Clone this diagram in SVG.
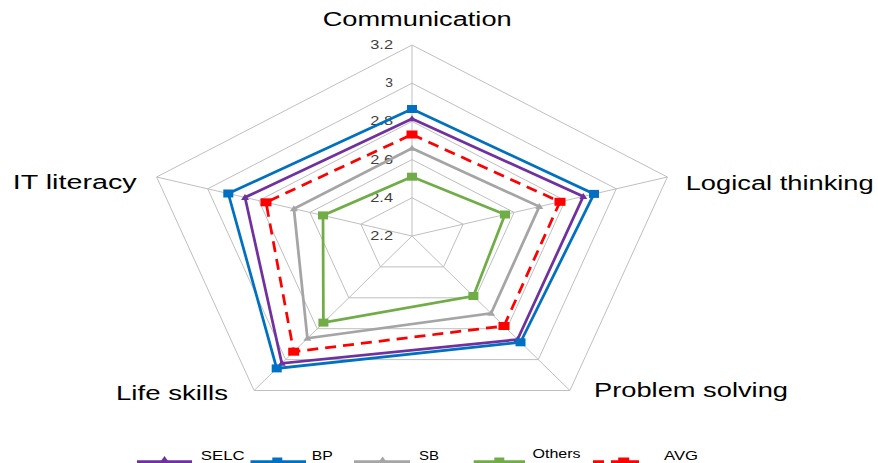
<svg xmlns="http://www.w3.org/2000/svg" width="878" height="463" viewBox="0 0 878 463">
<style>
.grid{fill:none;stroke:#BFBFBF;stroke-width:1}
.spoke{stroke:#BFBFBF;stroke-width:1}
.ser{fill:none;stroke-width:2.75;stroke-linejoin:miter}
.axis{font-family:"Liberation Sans",Arial,sans-serif;font-size:20px;fill:#000}
.tick{font-family:"Liberation Sans",Arial,sans-serif;font-size:12px;fill:#404040;text-anchor:end}
.leg{font-family:"Liberation Sans",Arial,sans-serif;font-size:12px;fill:#000}
</style>
<defs>
<marker id="mSELC" markerUnits="userSpaceOnUse" markerWidth="12" markerHeight="10" refX="6" refY="5.5" orient="0" overflow="visible"><path d="M6,2 L10,8 L2,8 Z" fill="#7030A0"/></marker>
<marker id="mBP" markerUnits="userSpaceOnUse" markerWidth="12" markerHeight="10" refX="6" refY="5" orient="0" overflow="visible"><rect x="1" y="1" width="10" height="8" fill="#0070C0"/></marker>
<marker id="mSB" markerUnits="userSpaceOnUse" markerWidth="12" markerHeight="10" refX="6" refY="5.5" orient="0" overflow="visible"><path d="M6,2 L10,8 L2,8 Z" fill="#A5A5A5"/></marker>
<marker id="mOth" markerUnits="userSpaceOnUse" markerWidth="12" markerHeight="10" refX="6" refY="5" orient="0" overflow="visible"><rect x="1" y="1" width="10" height="8" fill="#70AD47"/></marker>
<marker id="mAVG" markerUnits="userSpaceOnUse" markerWidth="12" markerHeight="10" refX="6" refY="5" orient="0" overflow="visible"><rect x="0.5" y="1" width="11" height="8" fill="#FF0000"/></marker>
</defs>
<rect width="878" height="463" fill="#FFFFFF"/>
<g id="grid">
<polygon class="grid" points="412,197.8 463.1,224.2 443.6,266.9 380.4,266.9 360.9,224.2"/>
<polygon class="grid" points="412,159.6 514.1,212.4 475.2,297.8 348.8,297.8 309.9,212.4"/>
<polygon class="grid" points="412,121.4 565.2,200.6 506.8,328.7 317.2,328.7 258.8,200.6"/>
<polygon class="grid" points="412,83.2 616.3,188.8 538.3,359.6 285.7,359.6 207.7,188.8"/>
<polygon class="grid" points="412,45 667.4,177 569.9,390.5 254.1,390.5 156.6,177"/>
<line class="spoke" x1="412" y1="236" x2="412" y2="45"/>
<line class="spoke" x1="412" y1="236" x2="667.4" y2="177"/>
<line class="spoke" x1="412" y1="236" x2="569.9" y2="390.5"/>
<line class="spoke" x1="412" y1="236" x2="254.1" y2="390.5"/>
<line class="spoke" x1="412" y1="236" x2="156.6" y2="177"/>
</g>
<g id="ticks">
<text class="tick" x="393" y="49" textLength="22.7" lengthAdjust="spacingAndGlyphs">3.2</text>
<text class="tick" x="393" y="87.2" textLength="7.7" lengthAdjust="spacingAndGlyphs">3</text>
<text class="tick" x="393" y="125.4" textLength="22.7" lengthAdjust="spacingAndGlyphs">2.8</text>
<text class="tick" x="393" y="163.6" textLength="22.7" lengthAdjust="spacingAndGlyphs">2.6</text>
<text class="tick" x="393" y="201.8" textLength="22.7" lengthAdjust="spacingAndGlyphs">2.4</text>
<text class="tick" x="393" y="240" textLength="22.7" lengthAdjust="spacingAndGlyphs">2.2</text>
</g>
<g id="series">
<polygon id="s-SELC" class="ser" stroke="#7030A0" marker-start="url(#mSELC)" marker-mid="url(#mSELC)" points="412,118.7 583.3,196.4 517.5,339.5 281.8,363.3 245,197.4"/>
<polygon id="s-BP" class="ser" stroke="#0070C0" marker-start="url(#mBP)" marker-mid="url(#mBP)" points="412,109 594,193.9 520.5,342.3 276.7,368.4 228.3,193.5"/>
<polygon id="s-SB" class="ser" stroke="#A5A5A5" marker-start="url(#mSB)" marker-mid="url(#mSB)" points="412,148.3 539.3,206.6 491.1,313.3 307.4,338.3 293.9,208.7"/>
<polygon id="s-Others" class="ser" stroke="#70AD47" stroke-width="2.5" marker-start="url(#mOth)" marker-mid="url(#mOth)" points="412,176.7 505,214.5 473.4,296 323.4,322.6 323,215.4"/>
<polygon id="s-AVG" class="ser" stroke="#FF0000" stroke-dasharray="11 7" marker-start="url(#mAVG)" marker-mid="url(#mAVG)" points="412,134.5 560,201.8 504,326 293.7,351.7 266,202.3"/>
</g>
<g id="axis-labels">
<text class="axis" x="322.7" y="26" textLength="189" lengthAdjust="spacingAndGlyphs">Communication</text>
<text class="axis" x="685.7" y="190" textLength="188" lengthAdjust="spacingAndGlyphs">Logical thinking</text>
<text class="axis" x="594" y="397" textLength="194" lengthAdjust="spacingAndGlyphs">Problem solving</text>
<text class="axis" x="116" y="400" textLength="112" lengthAdjust="spacingAndGlyphs">Life skills</text>
<text class="axis" x="12.7" y="189" textLength="124" lengthAdjust="spacingAndGlyphs">IT literacy</text>
</g>
<g id="legend">
<g id="leg-SELC"><line x1="137" y1="461.5" x2="192" y2="461.5" stroke="#7030A0" stroke-width="2.75"/><path d="M159.5,463 L164.5,456 L169.5,463 Z" fill="#7030A0"/><text class="leg" x="200.8" y="459.5" textLength="44" lengthAdjust="spacingAndGlyphs">SELC</text></g>
<g id="leg-BP"><line x1="250.5" y1="461.5" x2="306" y2="461.5" stroke="#0070C0" stroke-width="2.75"/><rect x="272.3" y="457.5" width="10" height="8" fill="#0070C0"/><text class="leg" x="311.8" y="459.5" textLength="21" lengthAdjust="spacingAndGlyphs">BP</text></g>
<g id="leg-SB"><line x1="354" y1="461.5" x2="410" y2="461.5" stroke="#A5A5A5" stroke-width="2.75"/><path d="M378,463 L382.6,456.5 L387.2,463 Z" fill="#A5A5A5"/><text class="leg" x="419" y="459.5" textLength="20" lengthAdjust="spacingAndGlyphs">SB</text></g>
<g id="leg-Others"><line x1="473.7" y1="461.5" x2="525" y2="461.5" stroke="#70AD47" stroke-width="2.75"/><rect x="494.3" y="457.5" width="10" height="8" fill="#70AD47"/><text class="leg" x="532.6" y="457.5" textLength="48" lengthAdjust="spacingAndGlyphs">Others</text></g>
<g id="leg-AVG"><line x1="593" y1="461.5" x2="639" y2="461.5" stroke="#FF0000" stroke-width="2.75" stroke-dasharray="11 7"/><rect x="618.2" y="457.5" width="11" height="8" fill="#FF0000"/><text class="leg" x="664" y="459.5" textLength="34" lengthAdjust="spacingAndGlyphs">AVG</text></g>
</g>
</svg>
